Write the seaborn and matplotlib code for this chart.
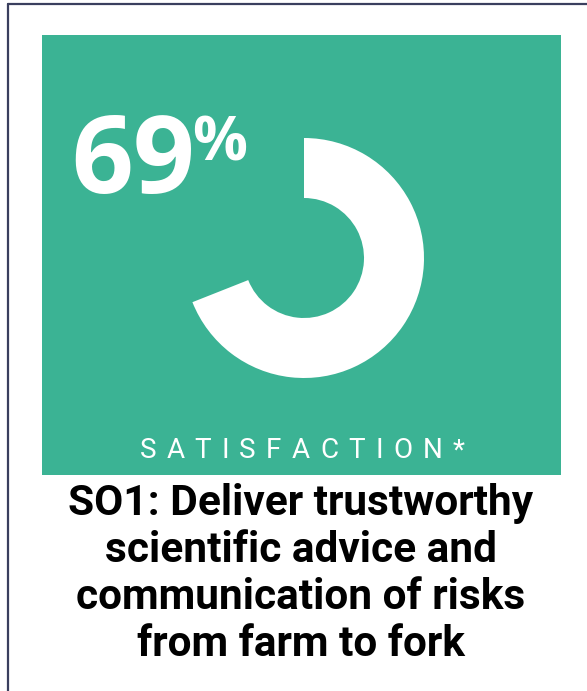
import seaborn as sns
import matplotlib.pyplot as plt
from matplotlib.patches import Rectangle
from matplotlib.lines import Line2D

# data
share_labels = ["Satisfied", "Other"]
share_values = [69, 31]
headline = "69"
title_lines = ["SO1: Deliver trustworthy", "scientific advice and",
               "communication of risks", "from farm to fork"]
caption = "SATISFACTION*"

GREEN = "#3bb394"
NAVY = "#3a3f5e"
W, H = 587, 691
DPI = 100

sns.set_theme(style="white")
plt.rcParams["font.family"] = ["Roboto", "DejaVu Sans"]

fig = plt.figure(figsize=(W / DPI, H / DPI), dpi=DPI)
ax = fig.add_axes([0, 0, 1, 1])
ax.set_xlim(0, W)
ax.set_ylim(H, 0)
ax.axis("off")

# frame lines (top and left)
ax.add_line(Line2D([8, W], [3.5, 3.5], color=NAVY, lw=1.6))
ax.add_line(Line2D([8, 8], [3.5, H], color=NAVY, lw=1.6))

# green panel
ax.add_patch(Rectangle((42, 35), 519, 440, color=GREEN, lw=0))

# donut
cx, cy, r = 304, 258, 120
dax = fig.add_axes([(cx - r) / W, (H - cy - r) / H, 2 * r / W, 2 * r / H])
dax.pie(share_values, labels=None, startangle=90, counterclock=False,
        colors=["white", (0, 0, 0, 0)],
        wedgeprops=dict(width=0.5, linewidth=0))
dax.set_xlim(-1, 1)
dax.set_ylim(-1, 1)
dax.set_aspect("auto")
dax.axis("off")

# big number
ax.text(71, 193, headline, color="white", fontsize=78, fontweight="bold",
        family=["Open Sans", "DejaVu Sans"], ha="left", va="baseline")
ax.text(192, 160, "%", color="white", fontsize=44, fontweight="bold",
        family=["Open Sans", "DejaVu Sans"], ha="left", va="baseline")

# caption with letter spacing, fitted to the panel text width
renderer = fig.canvas.get_renderer()
chars = []
for ch in caption:
    t = ax.text(0, 458, ch, color="white", fontsize=20, ha="left",
                va="baseline")
    chars.append((t, t.get_window_extent(renderer).width))
span = 325
track = (span - sum(w for _, w in chars)) / (len(chars) - 1)
x = 302 - span / 2
for t, w in chars:
    t.set_x(x)
    x += w + track

# title
for i, line in enumerate(title_lines):
    ax.text(301, 515 + 47 * i, line, color="black", fontsize=30.5,
            fontweight="bold", ha="center", va="baseline")

fig.savefig("out.png", dpi=DPI, facecolor="white")
